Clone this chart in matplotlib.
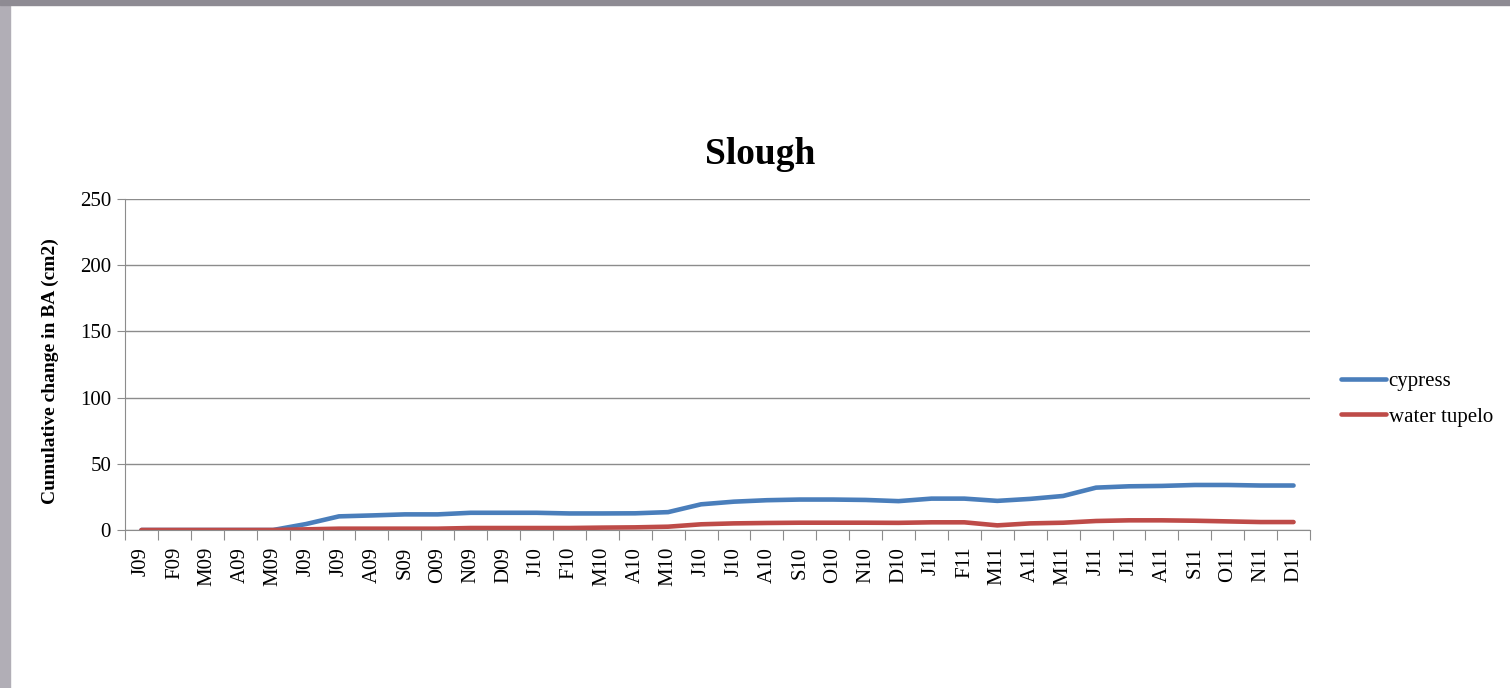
import numpy as np
import matplotlib.pyplot as plt
from matplotlib.patches import Rectangle

months = ['J09', 'F09', 'M09', 'A09', 'M09', 'J09', 'J09', 'A09', 'S09', 'O09', 'N09', 'D09',
          'J10', 'F10', 'M10', 'A10', 'M10', 'J10', 'J10', 'A10', 'S10', 'O10', 'N10', 'D10',
          'J11', 'F11', 'M11', 'A11', 'M11', 'J11', 'J11', 'A11', 'S11', 'O11', 'N11', 'D11']
cypress = [0, 0, 0, 0, 0, 4.5, 10.3, 11, 11.8, 11.8, 13, 13,
           13, 12.5, 12.5, 12.6, 13.5, 19.4, 21.4, 22.5, 23, 23, 22.7, 21.8,
           23.7, 23.7, 22, 23.5, 25.7, 32, 33, 33.3, 34, 34, 33.6, 33.6]
tupelo = [0, 0, 0, 0, 0, 0.5, 1, 1, 1, 1, 1.5, 1.5,
          1.5, 1.5, 1.8, 2, 2.5, 4.3, 5, 5.3, 5.5, 5.5, 5.5, 5.4,
          5.8, 5.8, 3.5, 5, 5.5, 6.8, 7.3, 7.3, 7, 6.5, 6, 6]

plt.rcParams['font.family'] = ['Liberation Serif', 'DejaVu Serif']

fig = plt.figure(figsize=(15.1, 6.88), dpi=100)
# slide border
fig.patches.append(Rectangle((0, 0), 10 / 1510, 1, transform=fig.transFigure,
                             color='#b1aeb6', zorder=0))
fig.patches.append(Rectangle((0, 1 - 5 / 688), 1, 5 / 688, transform=fig.transFigure,
                             color='#8e8b93', zorder=0))

ax = fig.add_axes([125 / 1510, 158 / 688, 1185 / 1510, 331 / 688])
x = np.arange(len(months))
ax.plot(x, cypress, color='#4a7ebb', lw=3.3, label='cypress', solid_capstyle='round')
ax.plot(x, tupelo, color='#be4b48', lw=3.3, label='water tupelo', solid_capstyle='round')

ax.set_xlim(-0.5, len(months) - 0.5)
ax.set_ylim(0, 250)
ax.set_yticks(np.arange(0, 251, 50))
ax.yaxis.grid(True, color='#8c8c8c', lw=1)
ax.set_axisbelow(True)

ax.set_xticks(np.arange(len(months) + 1) - 0.5)
ax.set_xticklabels([])
ax.set_xticks(x, minor=True)
ax.set_xticklabels(months, minor=True, rotation=90, fontsize=15)
ax.tick_params(axis='x', which='major', length=7, color='#8c8c8c', direction='out')
ax.tick_params(axis='x', which='minor', length=0, pad=12)
ax.tick_params(axis='y', length=6, color='#8c8c8c', labelsize=15, pad=4)

for s in ['top', 'right']:
    ax.spines[s].set_visible(False)
for s in ['left', 'bottom']:
    ax.spines[s].set_color('#8c8c8c')

ax.set_ylabel('Cumulative change in BA (cm2)', fontsize=14, fontweight='bold')
ax.yaxis.set_label_coords(-0.056, 0.48)
fig.text(760 / 1510, 1 - 155 / 688, 'Slough', fontsize=27, fontweight='bold',
         ha='center', va='center')

ax.legend(loc='center left', bbox_to_anchor=(1.01, 0.395), frameon=False, fontsize=15,
          handlelength=2.2, handletextpad=0.1, labelspacing=0.75)

fig.savefig('out.png', dpi=100)
